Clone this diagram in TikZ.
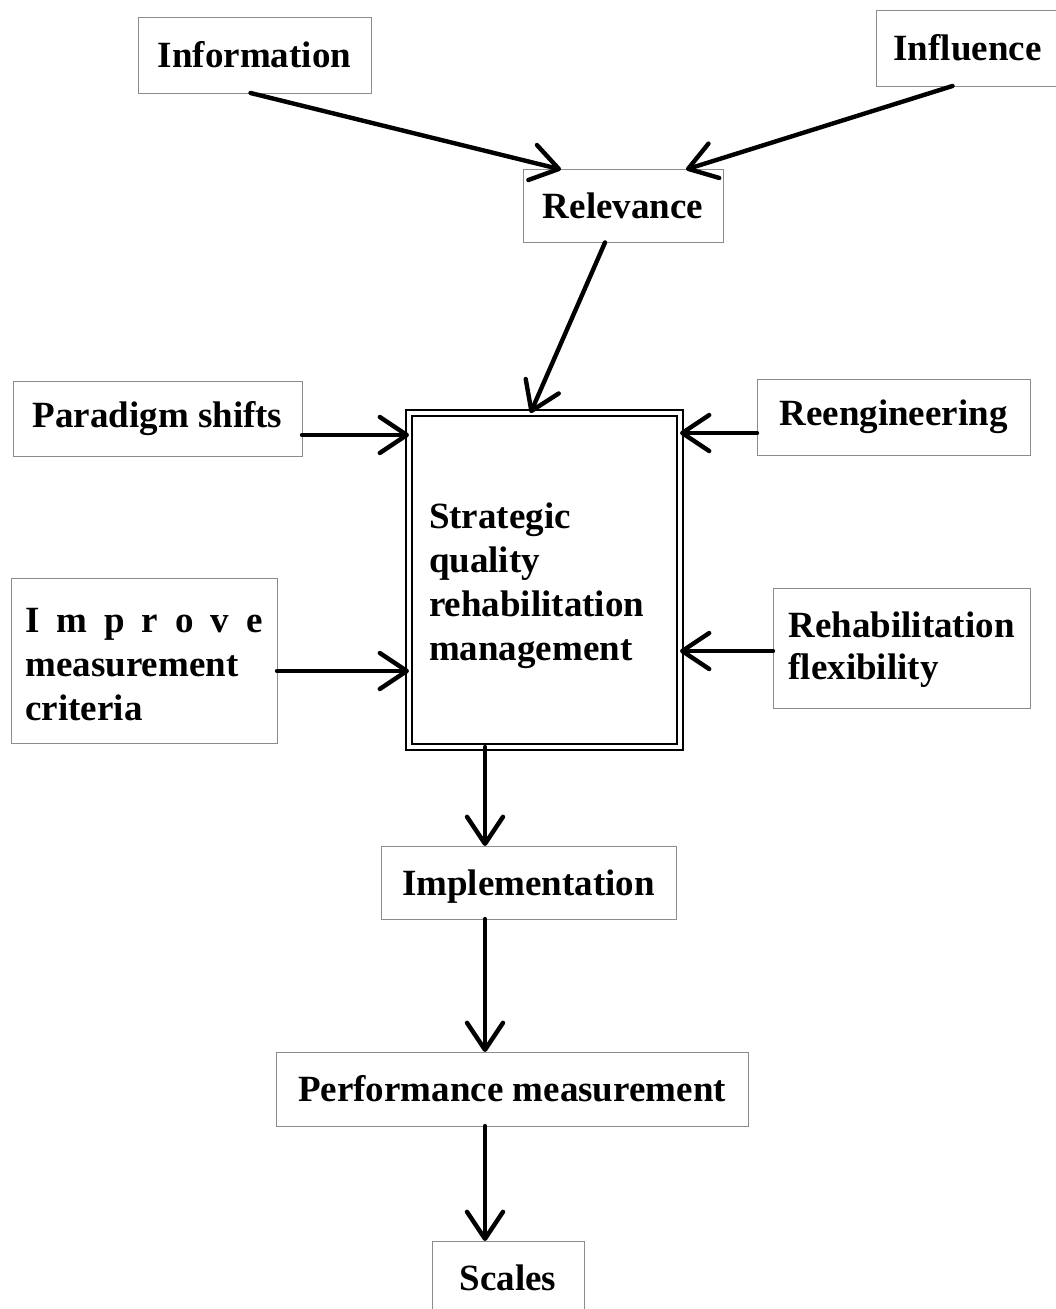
\documentclass[tikz,border=0pt]{standalone}
\usepackage{fontspec}
\setmainfont{Liberation Serif}
\usetikzlibrary{arrows.meta}

% multi-line label: width, raise of the first baseline above the node centre, lines
\newcommand{\boxlines}[3]{\raisebox{#2}[0pt][0pt]{\parbox[t]{#1}{\raggedright #3}}}

\begin{document}
\begin{tikzpicture}[
  x=1pt, y=-1pt,
  box/.style={draw=black!45, line width=1pt, inner sep=0pt, outer sep=0pt,
              font=\bfseries\fontsize{37}{44}\selectfont},
  arr/.style={line width=4.4pt, line cap=round,
              -{Straight Barb[length=27pt, width=36pt, line cap=round, line join=round]}},
]
\clip (0,0) rectangle (1056,1309);
\fill[white] (0,0) rectangle (1056,1309);

% input factors
\node[box, minimum width=233pt, minimum height=76pt] (info)  at (254.5,55)  {Information};
\node[box, minimum width=183pt, minimum height=76pt] (infl)  at (967.5,48)  {Influence};
\node[box, minimum width=200pt, minimum height=73pt] (rel)   at (623,206)   {Relevance};
\node[box, minimum width=289pt, minimum height=75pt] (para)  at (157.5,419)  {Paradigm shifts};
\node[box, minimum width=273pt, minimum height=76pt] (reeng) at (893.5,417) {Reengineering};
\node[box, minimum width=266pt, minimum height=165pt] (impr) at (144,660.5)
  {\boxlines{237pt}{28pt}{\makebox[237pt]{I\hfill m\hfill p\hfill r\hfill o\hfill v\hfill e}\\measurement\\criteria}};
\node[box, minimum width=257pt, minimum height=120pt] (rflex) at (901.5,648)
  {\boxlines{226pt}{11pt}{\baselineskip=42pt Rehabilitation\\flexibility}};

% central management block with a double frame
\node[box, draw=black, line width=2.4pt, double, double distance=3.6pt,
      minimum width=271pt, minimum height=334pt] (sq) at (544.5,580)
  {\boxlines{231pt}{52pt}{Strategic\\quality\\rehabilitation\\management}};

% outcome chain
\node[box, minimum width=295pt, minimum height=73pt, text depth=0pt] (impl) at (528.5,882.5) {Implementation};
\node[box, minimum width=472pt, minimum height=74pt] (perf)  at (512,1089)    {Performance measurement};
\node[box, minimum width=152pt, minimum height=74pt] (scal)  at (508,1278)    {Scales};

% connectors
\draw[arr] ([xshift=-4pt]info.south) -- ([xshift=-62pt]rel.north);
\draw[arr] ([xshift=-15pt]infl.south) -- ([xshift=63pt]rel.north);
\draw[arr] ([xshift=-18pt]rel.south) -- ([xshift=-14pt]sq.north);
\draw[arr] ([yshift=-16pt]para.east) -- ([yshift=-16pt]para.east -| sq.west);
\draw[arr] ([yshift=-16pt]reeng.west) -- ([yshift=-16pt]reeng.west -| sq.east);
\draw[arr] ([yshift=-10.5pt]impr.east) -- ([yshift=-10.5pt]impr.east -| sq.west);
\draw[arr] ([yshift=-3pt]rflex.west) -- ([yshift=-3pt]rflex.west -| sq.east);
\draw[arr] ([xshift=-59.5pt]sq.south) -- ([xshift=-59.5pt]sq.south |- impl.north);
\draw[arr] ([xshift=-43.5pt]impl.south) -- ([xshift=-43.5pt]impl.south |- perf.north);
\draw[arr] ([xshift=-27pt]perf.south) -- ([xshift=-27pt]perf.south |- scal.north);
\end{tikzpicture}
\end{document}
